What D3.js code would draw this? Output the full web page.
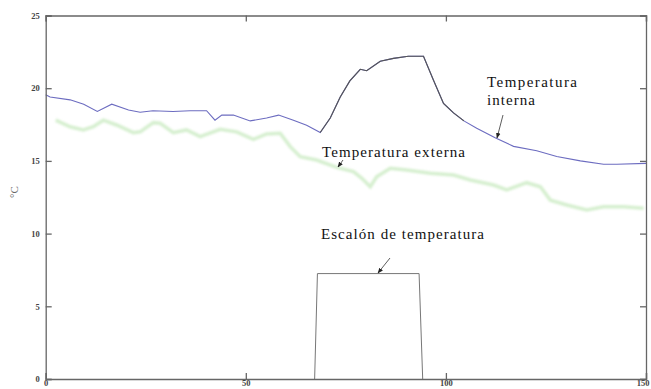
<!DOCTYPE html>
<html lang="es">
<head>
<meta charset="UTF-8">
<title>Temperaturas</title>
<script src="https://d3js.org/d3.v7.min.js"></script>
<style>
    body, html { margin: 0; padding: 0; overflow: hidden; background: #fff; }
    svg { display: block; }
    .tick text { font: bold 8.5px "Liberation Serif", serif; fill: #444; }
    .axis path, .axis line { stroke: #666; stroke-width: 1.3; }
    .label { font-family: "Liberation Serif", serif; font-size: 15px; fill: #111; }
</style>
</head>
<body>
<svg width="651" height="389"></svg>
<script>
// tiempo, valor
const interna = [[0,19.55],[1.1,19.4],[6.1,19.2],[9.5,18.9],[12.9,18.4],[16.5,18.9],[20.7,18.5],
    [23.6,18.35],[26.8,18.45],[31.8,18.4],[36.1,18.45],[40.2,18.45],[42.3,17.8],[44,18.15],[46.9,18.15],
    [51.1,17.75],[55.2,17.95],[58.2,18.15],[61.9,17.8],[65.2,17.45],[68.6,16.95],[71.1,17.95],[73.6,19.4],
    [76,20.5],[78.6,21.3],[80.2,21.2],[83.6,21.85],[86.9,22.05],[90.6,22.2],[94.4,22.2],[96.9,20.55],
    [99.4,18.95],[101.9,18.3],[104.5,17.75],[107.7,17.25],[112.3,16.6],[116.9,16.0],[122.7,15.7],
    [127.7,15.3],[133.6,15.0],[139.4,14.77],[142.7,14.77],[150,14.83]];

const externa = [[2.5,17.8],[6.1,17.35],[9.4,17.13],[11.9,17.35],[14.4,17.8],[17.7,17.47],[21.9,16.94],
    [23.6,17.0],[26.9,17.63],[28.6,17.59],[31.9,16.94],[35.2,17.13],[38.6,16.67],[43.6,17.17],[47.7,17.0],
    [51.9,16.48],[55.2,16.85],[58.6,16.9],[61.1,15.98],[63.6,15.29],[67.7,15.06],[72.7,14.55],[76.9,14.26],
    [79,13.8],[81.1,13.22],[82.7,13.9],[86.1,14.49],[90.2,14.37],[96.1,14.15],[101.9,14.03],[106.1,13.69],
    [111.9,13.34],[115.2,13.0],[120.2,13.5],[123.6,13.22],[126.1,12.3],[130.2,11.97],[135.2,11.62],
    [139.4,11.85],[144.4,11.85],[149.4,11.74]];

const escalon = [[67.2,0],[67.9,7.25],[93.3,7.25],[94.2,0]];

const xTicks = [0, 50, 100, 150];
const yTicks = [0, 5, 10, 15, 20, 25];

const svg = d3.select('svg');
const x = d3.scaleLinear().domain([0, 150]).range([45.7, 646]);
const y = d3.scaleLinear().domain([0, 25]).range([379, 15.5]);

const defs = svg.append('defs');
defs.append('filter').attr('id', 'blur')
    .append('feGaussianBlur').attr('stdDeviation', 1);
defs.append('marker').attr('id', 'arrow')
    .attr('viewBox', '0 0 10 10').attr('refX', 9).attr('refY', 5)
    .attr('markerWidth', 7).attr('markerHeight', 7).attr('orient', 'auto')
    .append('path').attr('d', 'M0,1 L10,5 L0,9 Z').attr('fill', '#222');

const line = d3.line().x(d => x(d[0])).y(d => y(d[1]));

// exterior: trazo verde difuso
svg.append('path').datum(externa)
    .attr('d', line).attr('fill', 'none')
    .attr('stroke', '#b4e2a8').attr('stroke-width', 3.5).attr('opacity', 0.55)
    .attr('filter', 'url(#blur)');

svg.append('path').datum(interna)
    .attr('d', line).attr('fill', 'none')
    .attr('stroke', '#6c6cc0').attr('stroke-width', 1.1);

svg.append('path').datum(interna.filter(d => d[0] >= 67 && d[0] <= 105))
    .attr('d', line).attr('fill', 'none')
    .attr('stroke', '#555').attr('stroke-width', 1.1);

svg.append('path').datum(escalon)
    .attr('d', line).attr('fill', 'none')
    .attr('stroke', '#777').attr('stroke-width', 1);

// ejes (caja completa, marcas hacia dentro)
const ejeX = svg.append('g').attr('class', 'axis').attr('transform', `translate(0,${y(0)})`)
    .call(d3.axisBottom(x).tickValues(xTicks).tickSize(-6).tickPadding(1));
ejeX.selectAll('.tick text').filter(d => d === 150).attr('text-anchor', 'end').attr('dx', 3);
svg.append('g').attr('class', 'axis').attr('transform', `translate(0,${y(25)})`)
    .call(d3.axisTop(x).tickValues(xTicks).tickSize(-6).tickFormat(''));
svg.append('g').attr('class', 'axis').attr('transform', `translate(${x(0)},0)`)
    .call(d3.axisLeft(y).tickValues(yTicks).tickSize(-6).tickPadding(6));
svg.append('g').attr('class', 'axis').attr('transform', `translate(${x(150)},0)`)
    .call(d3.axisRight(y).tickValues(yTicks).tickSize(-6).tickFormat(''));
svg.selectAll('.axis .domain').attr('stroke', '#666');

svg.append('text')
    .attr('transform', 'translate(18,192) rotate(-90)')
    .attr('text-anchor', 'middle')
    .style('font', '11px "Liberation Serif", serif').style('fill', '#666')
    .text('°C');

// etiquetas
svg.append('text').attr('class', 'label').attr('x', 487).attr('y', 86.5)
    .attr('textLength', 90).text('Temperatura');
svg.append('text').attr('class', 'label').attr('x', 487).attr('y', 104.5)
    .attr('textLength', 48).text('interna');
svg.append('text').attr('class', 'label').attr('x', 322).attr('y', 156.5)
    .attr('textLength', 143).text('Temperatura externa');
svg.append('text').attr('class', 'label').attr('x', 321).attr('y', 238.5)
    .attr('textLength', 163).text('Escalón de temperatura');

const flechas = [
    [[503, 115], [497, 138]],
    [[343, 160], [338, 167]],
    [[390, 258], [378, 273]]
];
svg.selectAll('.flecha').data(flechas).enter().append('line')
    .attr('class', 'flecha')
    .attr('x1', d => d[0][0]).attr('y1', d => d[0][1])
    .attr('x2', d => d[1][0]).attr('y2', d => d[1][1])
    .attr('stroke', '#333').attr('stroke-width', 0.8)
    .attr('marker-end', 'url(#arrow)');
</script>
</body>
</html>
